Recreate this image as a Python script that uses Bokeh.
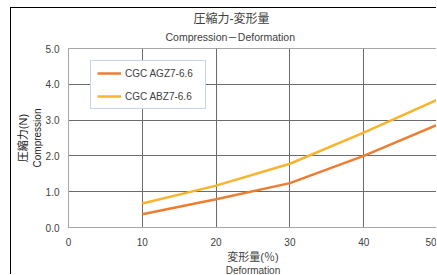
from bokeh.plotting import figure
from bokeh.models import Range1d, Title, Legend, LegendItem, FixedTicker, NumeralTickFormatter
from bokeh.embed import file_html
from bokeh.resources import INLINE

# data
deformation = [10, 20, 30, 40, 50]
agz7 = [0.37, 0.79, 1.24, 2.00, 2.87]
abz7 = [0.67, 1.17, 1.78, 2.65, 3.57]
series_names = ["CGC AGZ7-6.6", "CGC ABZ7-6.6"]
x_ticks = [0, 10, 20, 30, 40, 50]
y_ticks = [0, 1, 2, 3, 4, 5]

JP = "'Liberation Sans', 'Noto Sans CJK JP'"
LAT = "Liberation Sans"
TXT = "#404040"

p = figure(width=426, height=267, output_backend="svg", toolbar_location=None,
           x_range=Range1d(0, 50), y_range=Range1d(0, 5),
           min_border_left=57, min_border_right=0, min_border_top=40, min_border_bottom=38,
           title="圧縮力-変形量")
p.styles = {"border-left": "1px solid #000", "border-top": "1px solid #000",
            "margin-left": "10px", "margin-top": "7px"}

p.title.text_font = JP
p.title.text_font_size = "12px"
p.title.text_font_style = "normal"
p.title.text_color = TXT
p.title.align = "left"
p.title.offset = 125
p.title.standoff = -5
p.add_layout(Title(text="Compression－Deformation", text_font=JP, text_font_size="10.5px", text_font_style="normal",
                   text_color=TXT, align="left", offset=97, standoff=11), "above")

r1 = p.line(deformation, agz7, line_color="#ED7D31", line_width=2.5)
r2 = p.line(deformation, abz7, line_color="#F9B42E", line_width=2.5)

# axes
for ax in (p.xaxis[0], p.yaxis[0]):
    ax.major_tick_line_color = None
    ax.minor_tick_line_color = None
    ax.axis_line_color = "#a6a6a6"
    ax.major_label_text_font = LAT
    ax.major_label_text_font_size = "10px"
    ax.major_label_text_color = TXT
p.xaxis.ticker = FixedTicker(ticks=x_ticks)
p.yaxis.ticker = FixedTicker(ticks=y_ticks)
p.yaxis.formatter = NumeralTickFormatter(format="0.0")
p.xaxis.major_label_standoff = 4
p.yaxis.major_label_standoff = 3

p.xgrid.ticker = FixedTicker(ticks=x_ticks)
p.ygrid.ticker = FixedTicker(ticks=y_ticks)
p.grid.grid_line_color = "#6b6b6b"
p.grid.grid_line_width = 1
p.outline_line_color = "#a6a6a6"

p.add_layout(Title(text="変形量(％)", text_font=JP, text_font_size="11px", text_font_style="normal",
                   text_color=TXT, align="center", standoff=0), "below")
p.add_layout(Title(text="Deformation", text_font=LAT, text_font_size="10px", text_font_style="normal",
                   text_color=TXT, align="center", standoff=0), "below")

p.add_layout(Title(text="Compression", text_font=LAT, text_font_size="10px", text_font_style="normal",
                   text_color="#222", align="center", standoff=0), "left")
p.add_layout(Title(text="圧縮力(N)", text_font=JP, text_font_size="11px", text_font_style="normal",
                   text_color="#222", align="center", standoff=1), "left")

legend = Legend(items=[LegendItem(label=series_names[0], renderers=[r1]),
                       LegendItem(label=series_names[1], renderers=[r2])],
                location=(22, 118), padding=6, spacing=11, glyph_width=24, glyph_height=12,
                label_height=12, label_standoff=4, label_width=74,
                label_text_font=LAT, label_text_font_size="10px", label_text_color=TXT,
                border_line_color="#8faadc", border_line_width=1,
                background_fill_color="white", background_fill_alpha=1)
p.add_layout(legend)

open("out.html", "w").write(file_html(p, INLINE))
